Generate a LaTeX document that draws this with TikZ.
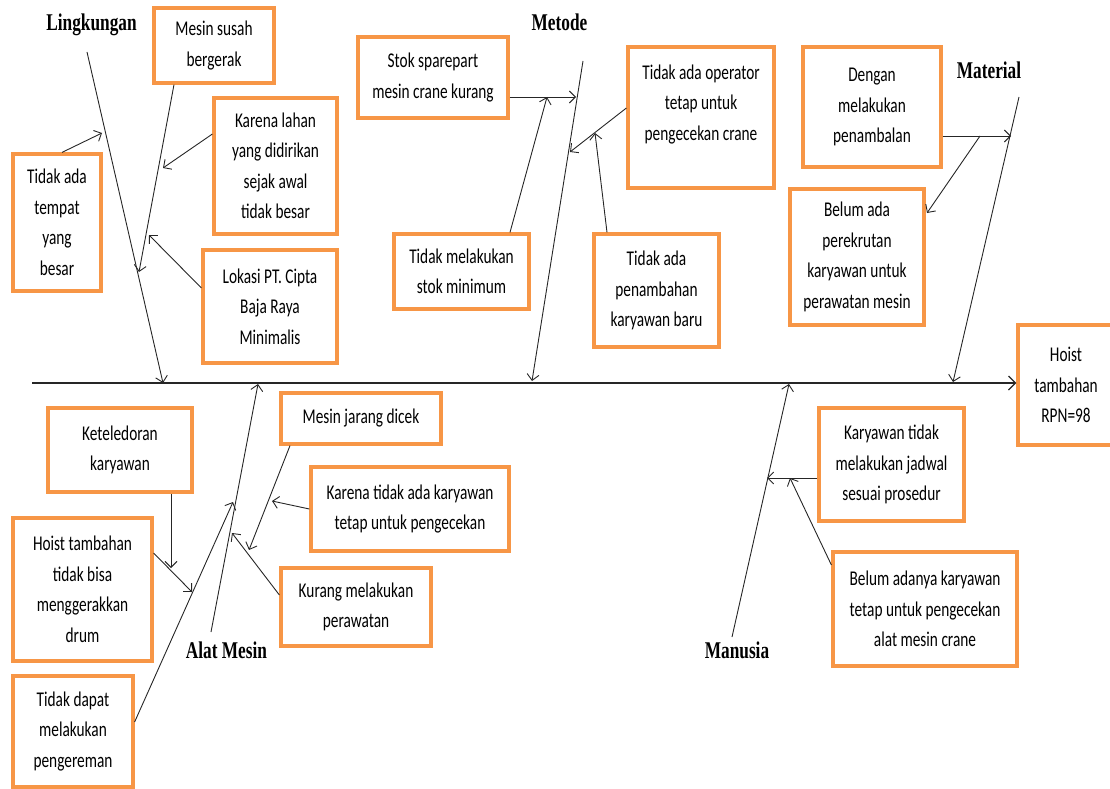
\documentclass[tikz,border=0pt]{standalone}
\usepackage{fontspec}
\usetikzlibrary{arrows.meta,calc}
\newfontfamily\boxfont[FakeStretch=0.73]{Carlito}
\newfontfamily\headfont[FakeStretch=0.72]{Liberation Serif}
\definecolor{boxorange}{HTML}{F79646}
\definecolor{ink}{HTML}{262626}
\begin{document}
\begin{tikzpicture}[x=1pt,y=-1pt,
 cbox/.style={draw=boxorange, line width=3.2pt, fill=white, align=center, inner sep=0pt, font=\boxfont\fontsize{21}{30.5}\selectfont, text=black},
 head/.style={font=\headfont\bfseries\fontsize{24}{26}\selectfont, anchor=base, text=black, inner sep=0pt},
 bone/.style={draw=ink, line width=0.9pt, -{Straight Barb[length=6pt,width=12pt]}},
 spine/.style={draw=ink, line width=1.3pt, -{Straight Barb[length=7pt,width=14pt]}},
]
\useasboundingbox (0,0) rectangle (1110,789);

% ---------- headers ----------
\node[head] (hL) at (91.5,31) {Lingkungan};
\node[head] (hMe) at (559.5,31) {Metode};
\node[head] (hMa) at (989,79) {Material};
\node[head] (hA) at (226.5,658) {Alat Mesin};
\node[head] (hMn) at (737,658) {Manusia};

% ---------- boxes ----------
\node[cbox, minimum width=120pt, minimum height=75pt] (ms) at (214,45.5) {Mesin susah\\bergerak};
\node[cbox, minimum width=123pt, minimum height=136pt] (kl) at (275.5,166) {Karena lahan\\yang didirikan\\sejak awal\\tidak besar};
\node[cbox, minimum width=134pt, minimum height=113pt] (lok) at (270,306.5) {Lokasi PT. Cipta\\Baja Raya\\Minimalis};
\node[cbox, minimum width=88pt, minimum height=137pt] (tt) at (57,222.5) {Tidak ada\\tempat\\yang\\besar};
\node[cbox, minimum width=150pt, minimum height=81pt] (stok) at (433,77.5) {Stok sparepart\\mesin crane kurang};
\node[cbox, minimum width=146pt, minimum height=141pt] (op) at (701,117.5) {Tidak ada operator\\tetap untuk\\pengecekan crane\\\mbox{}};
\node[cbox, minimum width=135pt, minimum height=75pt] (tms) at (461.5,271.5) {Tidak melakukan\\stok minimum};
\node[cbox, minimum width=125pt, minimum height=113pt] (tap) at (656.5,290.5) {Tidak ada\\penambahan\\karyawan baru};
\node[cbox, minimum width=138pt, minimum height=120pt] (dg) at (872,107) {Dengan\\melakukan\\penambalan};
\node[cbox, minimum width=134pt, minimum height=136pt] (bap) at (857,257) {Belum ada\\perekrutan\\karyawan untuk\\perawatan mesin};
\node[cbox, minimum width=96pt, minimum height=120pt] (hoist) at (1066,385) {Hoist\\tambahan\\RPN=98};
\node[cbox, minimum width=144pt, minimum height=84pt] (ket) at (120,450) {Keteledoran\\karyawan};
\node[cbox, minimum width=139pt, minimum height=143pt] (htb) at (82.5,589.5) {Hoist tambahan\\tidak bisa\\menggerakkan\\drum};
\node[cbox, minimum width=120pt, minimum height=111pt] (tdp) at (73,731.5) {Tidak dapat\\melakukan\\pengereman};
\node[cbox, minimum width=160pt, minimum height=51pt] (mjd) at (361,418.5) {Mesin jarang dicek};
\node[cbox, minimum width=198pt, minimum height=84pt] (ktk) at (410,509) {Karena tidak ada karyawan\\tetap untuk pengecekan};
\node[cbox, minimum width=150pt, minimum height=78pt] (kmp) at (356,607) {Kurang melakukan\\perawatan};
\node[cbox, minimum width=145pt, minimum height=113pt] (ktm) at (891.5,464.5) {Karyawan tidak\\melakukan jadwal\\sesuai prosedur};
\node[cbox, minimum width=184pt, minimum height=114pt] (bak) at (925,609) {Belum adanya karyawan\\tetap untuk pengecekan\\alat mesin crane};

% ---------- spine ----------
\coordinate (s0) at (32,383);
\draw[spine] (s0) -- (s0 -| hoist.west);

% ---------- bone coordinates ----------
\coordinate (L0) at (87,52);   \coordinate (L1) at (163,383);
\coordinate (Me0) at (583,61); \coordinate (Me1) at (532,381);
\coordinate (Ma0) at (1019,97); \coordinate (Ma1) at (953,382);
\coordinate (A0) at (211,632); \coordinate (A1) at (258,384);
\coordinate (M0) at (732,637); \coordinate (M1) at (789,384);

\coordinate (pMs) at (139,272);
\coordinate (pKl) at (163,168);
\coordinate (pLok) at (149,235);
\coordinate (pTt) at (102,133);
\coordinate (pStok) at (576,97);
\coordinate (pTms) at (547,97);
\coordinate (pOp) at (570,152);
\coordinate (pTap) at (595,133);
\coordinate (pDg) at (1011,136);
\coordinate (qDg) at (980,136);
\coordinate (pBap) at (927,213);
\coordinate (pTdp) at (233,502);
\coordinate (pHtb) at (192,592);
\coordinate (pKet) at (171,568);
\coordinate (pMjd) at (249,550);
\coordinate (pKtk) at (272,501);
\coordinate (pKmp) at (232,533);
\coordinate (pKtm) at (767,478);
\coordinate (pBak) at (790,478);

% ---------- main bones ----------
\draw[bone] (L0) -- (L1);
\draw[bone] (Me0) -- (Me1);
\draw[bone] (Ma0) -- (Ma1);
\draw[bone] (A0) -- (A1);
\draw[bone] (M0) -- (M1);

% ---------- Lingkungan ----------
\draw[bone] ([xshift=-40pt]ms.south) -- (pMs);
\draw[bone] ([yshift=32pt]kl.west) -- (pKl);
\draw[bone] ([yshift=18.5pt]lok.west) -- (pLok);
\draw[bone] ([xshift=5pt]tt.north) -- (pTt);

% ---------- Metode ----------
\draw[bone] ([yshift=-19.5pt]stok.east) -- (pStok);
\draw[bone] ([xshift=48.5pt]tms.north) -- (pTms);
\draw[bone] ([yshift=9.5pt]op.west) -- (pOp);
\draw[bone] ([xshift=-49.5pt]tap.north) -- (pTap);

% ---------- Material ----------
\draw[bone] ([yshift=-29pt]dg.east) -- (pDg);
\draw[bone] (qDg) -- (pBap);

% ---------- Alat Mesin ----------
\draw[bone] ([yshift=9.5pt]tdp.east) -- (pTdp);
\draw[bone] ([yshift=36.5pt]htb.east) -- (pHtb);
\draw[bone] ([xshift=51pt]ket.south) -- (pKet);
\draw[bone] ([xshift=-71pt]mjd.south) -- (pMjd);
\draw[bone] (ktk.west) -- (pKtk);
\draw[bone] ([yshift=12pt]kmp.west) -- (pKmp);

% ---------- Manusia ----------
\draw[bone] ([yshift=-13.5pt]ktm.west) -- (pKtm);
\draw[bone] ([yshift=44pt]bak.west) -- (pBak);
\end{tikzpicture}
\end{document}
